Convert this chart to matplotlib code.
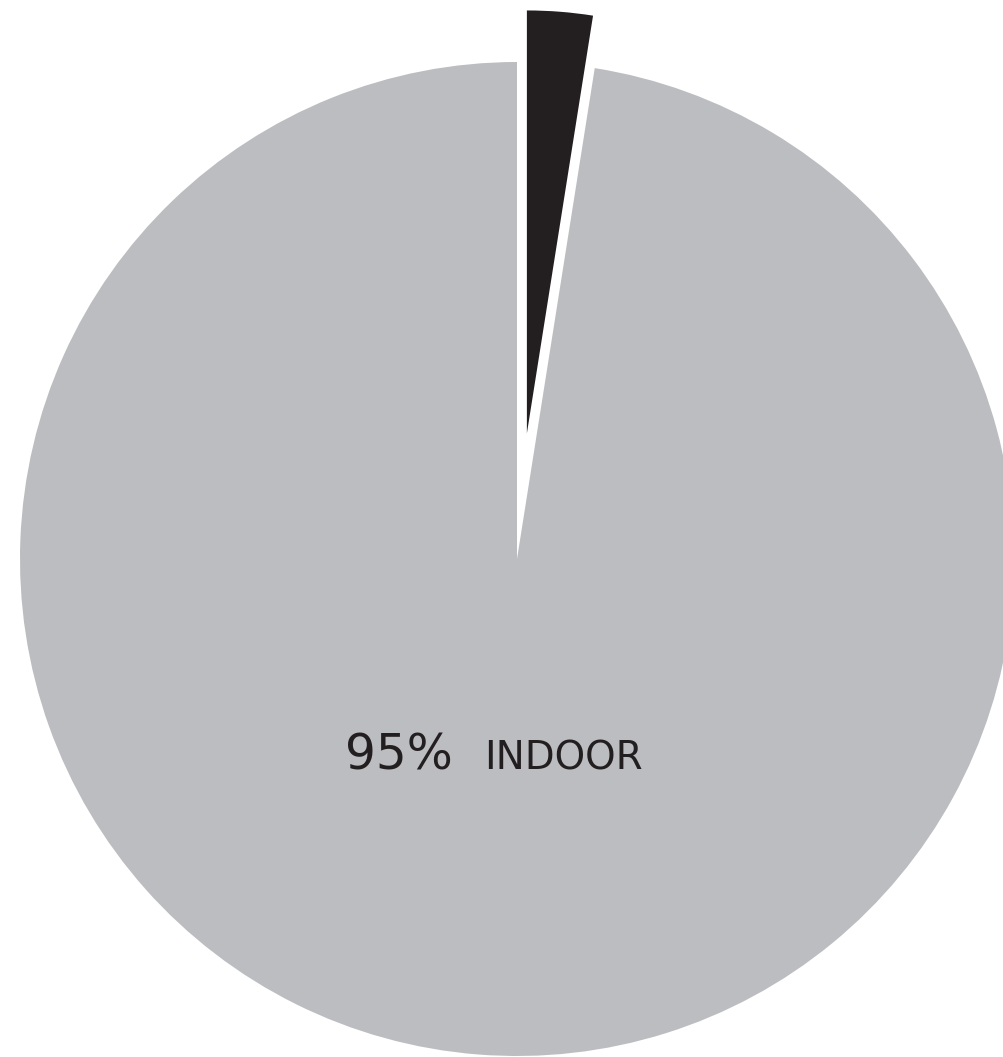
import matplotlib
matplotlib.use('Agg')
import matplotlib.pyplot as plt

# Daten
labels = ['Indoor', 'Outdoor']
values = [97.5, 2.5]
colors = ['#bcbdc1', '#231f20']
explode = [0, 0.2535]

fig = plt.figure(figsize=(10.04, 10.57), dpi=100)
ax = fig.add_axes([0, 0, 1, 1])

wedges, _ = ax.pie(values, colors=colors, explode=explode, startangle=90,
                   counterclock=True, wedgeprops={'linewidth': 0})
# schwarzes Segment ist kleiner
wedges[1].set_radius(0.851)

# Pixelgenaue Grenzen: Mittelpunkt bei (517, 559), Radius 497 px
R = 497
cx, cy = 517, 559
ax.set_xlim(-cx / R, (1004 - cx) / R)
ax.set_ylim(-(1057 - cy) / R, cy / R)
ax.set_aspect('auto')
ax.axis('off')

base_y = -(769 - cy) / R
ax.text((345 - cx) / R, base_y, '95%', fontsize=35, color='#231f20',
        ha='left', va='baseline', family='DejaVu Sans')
ax.text((484 - cx) / R, base_y, 'INDOOR', fontsize=28, color='#231f20',
        ha='left', va='baseline', family='DejaVu Sans')

fig.savefig('out.png', dpi=100, facecolor='white')
